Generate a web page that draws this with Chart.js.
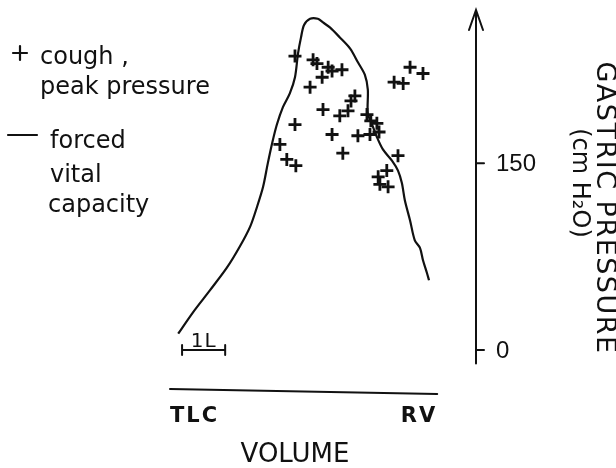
<!DOCTYPE html>
<html>
<head>
<meta charset="utf-8">
<script src="https://cdn.jsdelivr.net/npm/chart.js@4/dist/chart.umd.min.js"></script>
<style>
  html, body { margin: 0; padding: 0; background: #fff; }
</style>
</head>
<body>
<canvas id="chart" width="616" height="468"></canvas>
<script>
// forced vital capacity curve: volume (L from TLC) vs gastric pressure (cm H2O)
const fvcVolume = [0.19, 0.53, 0.93, 1.32, 1.62, 1.86, 2.02, 2.16, 2.27, 2.37, 2.48, 2.62, 2.78, 2.90, 2.97, 3.04, 3.11, 3.25, 3.43, 3.55, 3.71, 3.94, 4.18, 4.36, 4.52, 4.59, 4.59, 4.69, 4.80, 4.94, 5.15, 5.29, 5.38, 5.45, 5.57, 5.68, 5.80, 5.87, 5.96, 6.01];
const fvcPressure = [13, 30, 48, 66, 83, 99, 115, 131, 150, 166, 181, 195, 206, 219, 238, 251, 261, 266, 266, 263, 259, 251, 242, 231, 221, 209, 190, 181, 171, 161, 152, 144, 134, 120, 104, 88, 82, 72, 62, 56];

// coughs, peak pressure
const coughVolume = [2.90, 3.32, 3.41, 3.67, 3.76, 3.99, 3.53, 3.25, 4.29, 4.20, 3.55, 4.13, 3.94, 2.90, 4.57, 4.66, 4.80, 3.76, 4.36, 4.64, 4.85, 2.55, 4.01, 2.71, 2.92, 5.29, 5.03, 4.83, 4.87, 5.06, 5.20, 5.41, 5.57, 5.87];
const coughPressure = [236, 233, 230, 227, 224, 225, 219, 211, 204, 200, 193, 192, 188, 181, 189, 184, 182, 173, 172, 173, 175, 165, 158, 153, 148, 156, 144, 139, 133, 131, 215, 214, 227, 222];

const pressureTicks = [0, 150];
const volumeEnds = ["TLC", "RV"];
const legendLines = [["cough ,", "peak pressure"], ["forced", "vital", "capacity"]];

const INK = "#111";
const TEXT_FONT = '"DejaVu Sans", sans-serif';

const paperAxes = {
  id: "paperAxes",
  afterDraw(chart) {
    const ctx = chart.ctx;
    const x = chart.scales.x;
    const y = chart.scales.y;
    const axisX = chart.chartArea.right;

    ctx.save();
    ctx.strokeStyle = INK;
    ctx.fillStyle = INK;
    ctx.lineWidth = 2;
    ctx.lineCap = "round";

    // pressure axis with arrow
    const top = y.getPixelForValue(y.max);
    ctx.beginPath();
    ctx.moveTo(axisX, y.getPixelForValue(-11));
    ctx.lineTo(axisX, top);
    ctx.moveTo(axisX - 7, top + 20);
    ctx.lineTo(axisX, top);
    ctx.lineTo(axisX + 7, top + 20);
    ctx.stroke();

    ctx.font = '24px "Liberation Sans", sans-serif';
    ctx.textAlign = "left";
    ctx.textBaseline = "middle";
    pressureTicks.forEach((v) => {
      const py = y.getPixelForValue(v);
      ctx.beginPath();
      ctx.moveTo(axisX, py);
      ctx.lineTo(axisX + 8, py);
      ctx.stroke();
      ctx.fillText(String(v), axisX + 20, py + 1);
    });

    // pressure axis title, rotated
    ctx.textAlign = "center";
    ctx.textBaseline = "alphabetic";
    ctx.save();
    ctx.translate(597, 208);
    ctx.rotate(Math.PI / 2);
    ctx.font = "27px " + TEXT_FONT;
    ctx.letterSpacing = "1.5px";
    ctx.fillText("GASTRIC PRESSURE", 0, 0);
    ctx.restore();
    ctx.save();
    ctx.translate(573, 183);
    ctx.rotate(Math.PI / 2);
    ctx.font = "24px " + TEXT_FONT;
    ctx.fillText("(cm H\u2082O)", 0, 0);
    ctx.restore();

    // volume axis
    const baseY = y.getPixelForValue(y.min);
    ctx.beginPath();
    ctx.moveTo(x.getPixelForValue(0), baseY - 2);
    ctx.lineTo(x.getPixelForValue(6.2), baseY + 3);
    ctx.stroke();

    ctx.font = "bold 21px " + TEXT_FONT;
    ctx.letterSpacing = "2px";
    ctx.textAlign = "left";
    ctx.fillText(volumeEnds[0], x.getPixelForValue(0), 422);
    ctx.textAlign = "right";
    ctx.fillText(volumeEnds[1], x.getPixelForValue(6.2), 422);
    ctx.letterSpacing = "0px";

    ctx.font = "26px " + TEXT_FONT;
    ctx.textAlign = "center";
    ctx.fillText("VOLUME", 295, 462);

    // 1 litre scale bar
    const b0 = x.getPixelForValue(0.28);
    const b1 = x.getPixelForValue(1.28);
    const by = y.getPixelForValue(0);
    ctx.beginPath();
    ctx.moveTo(b0, by);
    ctx.lineTo(b1, by);
    ctx.moveTo(b0, by - 5);
    ctx.lineTo(b0, by + 5);
    ctx.moveTo(b1, by - 5);
    ctx.lineTo(b1, by + 5);
    ctx.stroke();
    ctx.font = "20px " + TEXT_FONT;
    ctx.letterSpacing = "1px";
    ctx.fillText("1L", (b0 + b1) / 2, by - 3);
    ctx.letterSpacing = "0px";

    // legend
    ctx.font = "24px " + TEXT_FONT;
    ctx.textAlign = "left";
    ctx.lineWidth = 2.2;
    ctx.beginPath();
    ctx.moveTo(13, 53);
    ctx.lineTo(27, 53);
    ctx.moveTo(20, 46);
    ctx.lineTo(20, 60);
    ctx.stroke();
    ctx.fillText(legendLines[0][0], 40, 64);
    ctx.fillText(legendLines[0][1], 40, 94);

    ctx.beginPath();
    ctx.moveTo(8, 135);
    ctx.lineTo(37, 135);
    ctx.stroke();
    ctx.fillText(legendLines[1][0], 50, 148);
    ctx.fillText(legendLines[1][1], 50, 182);
    ctx.fillText(legendLines[1][2], 48, 212);

    ctx.restore();
  },
};

function buildChart() {
  const ctx = document.getElementById("chart");
  return new Chart(ctx, {
    type: "scatter",
    data: {
      datasets: [
        {
          label: "cough, peak pressure",
          data: coughVolume.map((v, i) => ({ x: v, y: coughPressure[i] })),
          pointStyle: "cross",
          pointRadius: 6.5,
          pointBorderWidth: 2.8,
          borderColor: INK,
          backgroundColor: INK,
        },
        {
          label: "forced vital capacity",
          data: fvcVolume.map((v, i) => ({ x: v, y: fvcPressure[i] })),
          showLine: true,
          pointRadius: 0,
          borderColor: INK,
          borderWidth: 2.2,
          tension: 0.3,
        },
      ],
    },
    options: {
      responsive: false,
      animation: false,
      devicePixelRatio: 1,
      layout: { padding: { left: 170, right: 140, top: 10, bottom: 77 } },
      plugins: { legend: { display: false }, tooltip: { enabled: false } },
      scales: {
        x: { type: "linear", min: 0, max: 7.1, display: false },
        y: { type: "linear", min: -33, max: 273, display: false },
      },
    },
    plugins: [paperAxes],
  });
}

buildChart();
</script>
</body>
</html>
